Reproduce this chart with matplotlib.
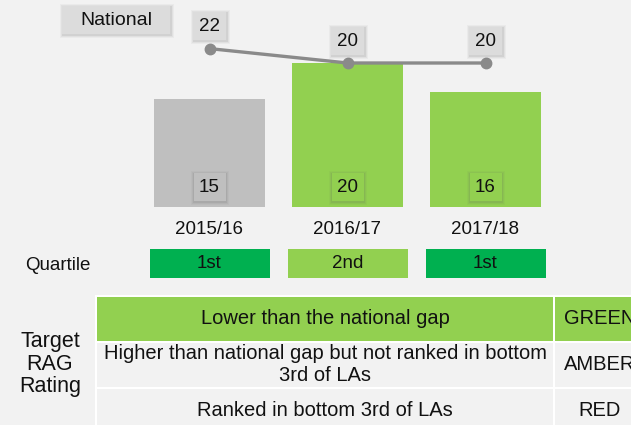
import matplotlib
matplotlib.use("Agg")
import matplotlib.pyplot as plt
from matplotlib.patches import Rectangle

plt.rcParams['font.family'] = ['Liberation Sans', 'DejaVu Sans']

# ---- data ----
years = ["2015/16", "2016/17", "2017/18"]
gap_values = [15, 20, 16]
national_values = [22, 20, 20]
bar_colors = ["#bfbfbf", "#92d050", "#92d050"]
quartiles = ["1st", "2nd", "1st"]
quartile_colors = ["#00b050", "#92d050", "#00b050"]
rag_criteria = ["Lower than the national gap",
                "Higher than national gap but not ranked in bottom\n3rd of LAs",
                "Ranked in bottom 3rd of LAs"]
rag_ratings = ["GREEN", "AMBER", "RED"]
rag_fill = ["#92d050", "#f2f2f2", "#f2f2f2"]

BG = "#f2f2f2"
TXT = "#111111"
W, H = 631, 425
FS = 13.5
FS_TABLE = 14.5

fig = plt.figure(figsize=(W / 100, H / 100), dpi=100, facecolor=BG)

# overlay axes in pixel coordinates (y down) for table, labels, boxes
ov = fig.add_axes([0, 0, 1, 1])
ov.set_xlim(0, W)
ov.set_ylim(H, 0)
ov.axis("off")
ov.set_zorder(2)
ov.patch.set_alpha(0)

# bar chart axes
px_per_unit = 7.2
base_px = 207
ax = fig.add_axes([140.5 / W, (H - base_px) / H, 414 / W, 25 * px_per_unit / H])
ax.set_xlim(-0.5, 2.5)
ax.set_ylim(0, 25)
ax.axis("off")
ax.patch.set_alpha(0)
ax.set_zorder(1)

x = list(range(len(years)))
ax.bar(x, gap_values, width=111 / 138, color=bar_colors, zorder=2)
ax.plot(x, national_values, color="#8a8a8a", lw=2.4, marker="o", ms=7.5, zorder=3)


def to_ov(xx, yy):
    """data coords of the bar axes -> overlay pixel coords"""
    d = ax.transData.transform((xx, yy))
    return ov.transData.inverted().transform(d)


def shadow_box(cx, cy, w, h, fc, text, fs=FS):
    for k, a in ((3, 0.05), (2, 0.07), (1, 0.11)):
        ov.add_patch(Rectangle((cx - w / 2 - k + 0.5, cy - h / 2 - k + 1), w + 2 * k, h + 2 * k,
                               fc="#606060", ec="none", alpha=a, zorder=3))
    ov.add_patch(Rectangle((cx - w / 2, cy - h / 2), w, h, fc=fc, ec="none", zorder=4))
    ov.text(cx, cy + 0.5, text, ha="center", va="center", fontsize=fs, color=TXT, zorder=5)


for i, (v, nv, c) in enumerate(zip(gap_values, national_values, bar_colors)):
    bx, by = to_ov(i, 0)
    shadow_box(bx, by - 20, 32, 28, c, str(v))
    nx, ny = to_ov(i, nv)
    shadow_box(nx, ny - 22.5, 33, 28, "#dcdcdc", str(nv))
    ov.text(bx, by + 22, years[i], ha="center", va="center", fontsize=FS, color=TXT)
    ov.add_patch(Rectangle((bx - 59.5, 249), 120, 29, fc=quartile_colors[i], ec="none"))
    ov.text(bx, 264, quartiles[i], ha="center", va="center", fontsize=FS, color=TXT)

# "National" legend box
shadow_box(116, 20, 108, 28, "#dcdcdc", "National", fs=14)

ov.text(58, 265, "Quartile", ha="center", va="center", fontsize=FS, color=TXT)
ov.text(50, 364, "Target\nRAG\nRating", ha="center", va="center", fontsize=15.5,
        color=TXT, linespacing=1.12)

# RAG table
rows = [(297, 341), (343, 387), (389, 430)]
text_y = [319, 364.5, 410]
ov.add_patch(Rectangle((95, 295), 560, 140, fc="white", ec="none"))
for (y0, y1), ty, crit, rating, fc in zip(rows, text_y, rag_criteria, rag_ratings, rag_fill):
    ov.add_patch(Rectangle((97, y0), 553 - 97, y1 - y0, fc=fc, ec="none"))
    ov.add_patch(Rectangle((555, y0), 100, y1 - y0, fc=fc, ec="none"))
    ov.text(325, ty, crit, ha="center", va="center", fontsize=FS_TABLE, color=TXT,
            linespacing=1.2)
    ov.text(600, ty, rating, ha="center", va="center", fontsize=FS_TABLE, color=TXT)

fig.savefig("out.png", dpi=100, facecolor=BG)
